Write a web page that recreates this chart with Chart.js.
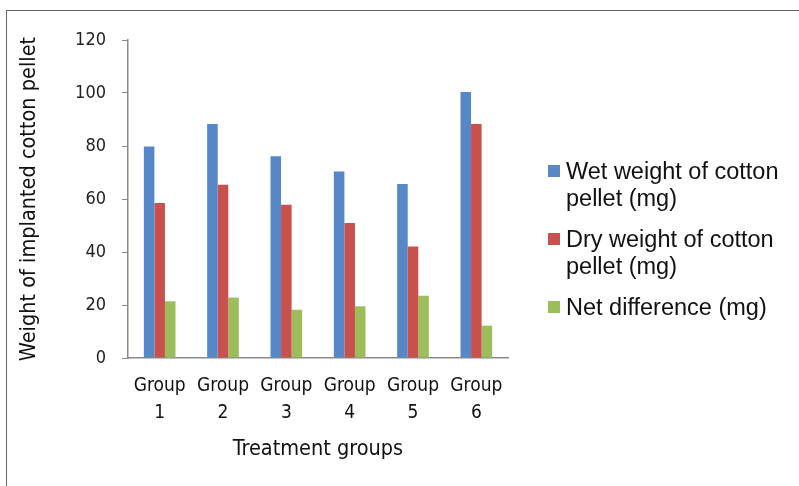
<!DOCTYPE html>
<html>
<head>
<meta charset="utf-8">
<script src="https://cdn.jsdelivr.net/npm/chart.js@4"></script>
<style>
  html, body { margin: 0; padding: 0; background: #fff; }
  #wrap { position: relative; width: 799px; height: 486px; overflow: hidden; }
  #frame { position: absolute; left: 6px; top: 10px; width: 900px; height: 600px;
           border-top: 1px solid #666; border-left: 1px solid #666; }
  #legend { position: absolute; left: 548px; top: 158px; width: 250px;
            font-family: 'Liberation Sans', Arial, sans-serif; font-size: 23.5px; color: #111; }
  .item { position: relative; padding-left: 18px; line-height: 26.5px; margin-bottom: 15px; }
  .box { position: absolute; left: 0; top: 7px; width: 12px; height: 12px; }
</style>
</head>
<body>
<div id="wrap">
  <div id="frame"></div>
  <canvas id="chart" width="799" height="486"></canvas>
  <div id="legend"></div>
</div>
<script>
const groupLabels = [['Group', '1'], ['Group', '2'], ['Group', '3'], ['Group', '4'], ['Group', '5'], ['Group', '6']];
const seriesNames = ['Wet weight of cotton pellet (mg)', 'Dry weight of cotton pellet (mg)', 'Net difference (mg)'];
const wetWeight = [79.8, 88.3, 76.1, 70.4, 65.7, 100.4];
const dryWeight = [58.5, 65.4, 57.8, 50.9, 42.1, 88.3];
const netDiff   = [21.4, 22.8, 18.2, 19.5, 23.5, 12.2];
const seriesColors = ['#5687c6', '#c8504d', '#9bbe5a'];

const narrow = "'DejaVu Sans Condensed', 'Liberation Sans Narrow', sans-serif";

const ctx = document.getElementById('chart');
const chart = new Chart(ctx, {
  type: 'bar',
  data: {
    labels: groupLabels,
    datasets: [wetWeight, dryWeight, netDiff].map((d, i) => ({
      label: seriesNames[i],
      data: d,
      backgroundColor: seriesColors[i],
      categoryPercentage: 0.5,
      barPercentage: 1.0
    }))
  },
  options: {
    responsive: false,
    animation: false,
    layout: { padding: { left: 0, right: 291, top: 40, bottom: 0 } },
    plugins: { legend: { display: false }, tooltip: { enabled: false } },
    scales: {
      x: {
        afterFit: s => { s.height = 128; },
        grid: { display: false, drawTicks: false },
        border: { display: true, color: '#8a8a8a', width: 1.5 },
        ticks: {
          padding: 15,
          color: '#111',
          font: { family: narrow, size: 19, lineHeight: 1.42 }
        },
        title: {
          display: true,
          text: 'Treatment groups',
          color: '#111',
          padding: { top: 0, bottom: 24 },
          font: { family: narrow, size: 21.5 }
        }
      },
      y: {
        min: 0,
        max: 120,
        afterFit: s => { s.width = 128; },
        grid: { drawOnChartArea: false, drawTicks: true, tickLength: 6, color: '#8a8a8a' },
        border: { display: true, color: '#8a8a8a', width: 1.5 },
        ticks: {
          stepSize: 20,
          padding: 16,
          color: '#222',
          font: { family: narrow, size: 18 }
        },
        title: {
          display: true,
          text: 'Weight of implanted cotton pellet',
          color: '#111',
          padding: { top: 17, bottom: 0 },
          font: { family: narrow, size: 21.5 }
        }
      }
    }
  }
});

// html legend built from the datasets
const legend = document.getElementById('legend');
chart.data.datasets.forEach(ds => {
  const item = document.createElement('div');
  item.className = 'item';
  item.innerHTML = '<span class="box" style="background:' + ds.backgroundColor + '"></span>' + ds.label;
  legend.appendChild(item);
});
</script>
</body>
</html>
